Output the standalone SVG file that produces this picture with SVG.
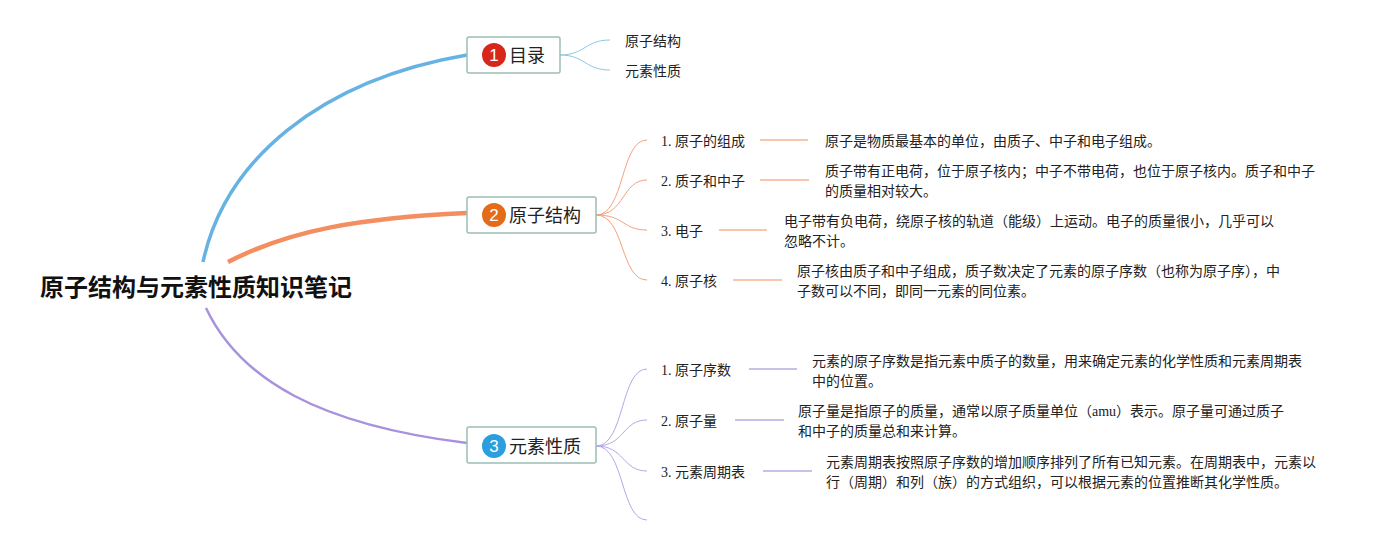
<svg xmlns="http://www.w3.org/2000/svg" width="1385" height="545" viewBox="0 0 1385 545">
<style>
.root{font-family:"Liberation Sans","Noto Sans CJK SC",sans-serif;font-size:24px;font-weight:bold;fill:#111}
.nt{font-family:"Liberation Sans","Noto Sans CJK SC",sans-serif;font-size:18px;fill:#222}
.num{font-family:"Liberation Sans",sans-serif;font-size:17px;fill:#fff;text-anchor:middle}
.box{fill:#fff;stroke:#9cbfb5;stroke-width:1.5}
.lb{font-family:"Liberation Serif","Noto Sans CJK SC",serif;font-size:14px;fill:#222}
.ds{font-family:"Liberation Serif","Noto Sans CJK SC",serif;font-size:14px;fill:#222}
.sub{fill:none;stroke-width:1}
</style>
<rect width="1385" height="545" fill="#fff"/>
<g id="connectors" fill="none">
<path d="M203,262 C225,160 320,80 467,55" stroke="#66b2e3" stroke-width="3.5"/>
<path d="M228,262 C290,230 360,218 467,213" stroke="#f48d60" stroke-width="4.5"/>
<path d="M206,308 C240,380 320,425 467,443" stroke="#a892dd" stroke-width="2.5"/>
<g class="sub" stroke="#8cc6e8">
<path d="M560,55 C585,55 585,40 610,40"/>
<path d="M560,55 C585,55 585,70 610,70"/>
</g>
<g class="sub" stroke="#f2a27e">
<path d="M596,215 C625,215 620,140 647,140"/>
<path d="M596,215 C625,215 622,180 647,180"/>
<path d="M596,215 C625,215 622,230 647,230"/>
<path d="M596,215 C625,215 620,280 647,280"/>
</g>
<g stroke="#f7c6ad" stroke-width="2">
<path d="M760,140 H808"/>
<path d="M760,180 H809"/>
<path d="M719,230 H767"/>
<path d="M733,280 H782"/>
</g>
<g class="sub" stroke="#b7a7e6">
<path d="M596,446 C625,446 620,369 647,369"/>
<path d="M596,446 C625,446 622,420 647,420"/>
<path d="M596,446 C625,446 622,471 647,471"/>
<path d="M596,446 C625,446 620,520 647,520"/>
</g>
<g stroke="#cbc0ea" stroke-width="2">
<path d="M749,369 H797"/>
<path d="M735,420 H784"/>
<path d="M763,471 H812"/>
</g>
</g>
<g id="root"><text class="root" x="40" y="296">原子结构与元素性质知识笔记</text></g>
<g id="n1">
<rect class="box" x="467" y="37" width="93" height="36" rx="2"/>
<circle cx="494" cy="55" r="12" fill="#d8261b"/>
<text class="num" x="494" y="61">1</text>
<text class="nt" x="509" y="62">目录</text>
</g>
<g id="n1a"><text class="lb" x="625" y="46">原子结构</text></g>
<g id="n1b"><text class="lb" x="625" y="76">元素性质</text></g>
<g id="n2">
<rect class="box" x="467" y="197" width="129" height="36" rx="2"/>
<circle cx="494" cy="215" r="12" fill="#e46b17"/>
<text class="num" x="494" y="221">2</text>
<text class="nt" x="509" y="222">原子结构</text>
</g>
<g id="n2a"><text class="lb" x="661" y="146">1. 原子的组成</text><text class="ds" x="825" y="146">原子是物质最基本的单位，由质子、中子和电子组成。</text></g>
<g id="n2b"><text class="lb" x="661" y="186">2. 质子和中子</text><text class="ds" x="825" y="176">质子带有正电荷，位于原子核内；中子不带电荷，也位于原子核内。质子和中子</text><text class="ds" x="825" y="196">的质量相对较大。</text></g>
<g id="n2c"><text class="lb" x="661" y="236">3. 电子</text><text class="ds" x="784" y="226">电子带有负电荷，绕原子核的轨道（能级）上运动。电子的质量很小，几乎可以</text><text class="ds" x="784" y="246">忽略不计。</text></g>
<g id="n2d"><text class="lb" x="661" y="286">4. 原子核</text><text class="ds" x="797" y="276">原子核由质子和中子组成，质子数决定了元素的原子序数（也称为原子序），中</text><text class="ds" x="797" y="296">子数可以不同，即同一元素的同位素。</text></g>
<g id="n3">
<rect class="box" x="467" y="427" width="129" height="36" rx="2"/>
<circle cx="494" cy="446" r="12" fill="#2a9ede"/>
<text class="num" x="494" y="452">3</text>
<text class="nt" x="509" y="453">元素性质</text>
</g>
<g id="n3a"><text class="lb" x="661" y="375">1. 原子序数</text><text class="ds" x="812" y="366">元素的原子序数是指元素中质子的数量，用来确定元素的化学性质和元素周期表</text><text class="ds" x="812" y="386">中的位置。</text></g>
<g id="n3b"><text class="lb" x="661" y="426">2. 原子量</text><text class="ds" x="798" y="416">原子量是指原子的质量，通常以原子质量单位（amu）表示。原子量可通过质子</text><text class="ds" x="798" y="436">和中子的质量总和来计算。</text></g>
<g id="n3c"><text class="lb" x="661" y="477">3. 元素周期表</text><text class="ds" x="826" y="467">元素周期表按照原子序数的增加顺序排列了所有已知元素。在周期表中，元素以</text><text class="ds" x="826" y="487">行（周期）和列（族）的方式组织，可以根据元素的位置推断其化学性质。</text></g>
</svg>
